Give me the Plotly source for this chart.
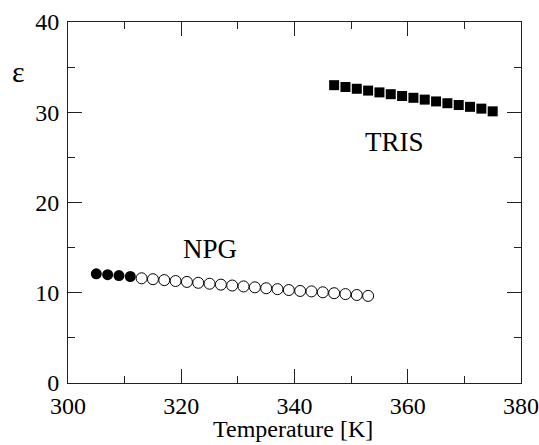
import plotly.graph_objects as go

# NPG: filled circles (low-T phase), open circles (high-T phase)
npg_solid_T = [305, 307, 309, 311]
npg_solid_eps = [12.1, 12.0, 11.9, 11.8]
npg_open_T = [313, 315, 317, 319, 321, 323, 325, 327, 329, 331, 333,
              335, 337, 339, 341, 343, 345, 347, 349, 351, 353]
npg_open_eps = [11.6, 11.5, 11.4, 11.3, 11.2, 11.1, 11.0, 10.9, 10.8, 10.7, 10.6,
                10.5, 10.4, 10.3, 10.2, 10.15, 10.05, 9.95, 9.85, 9.75, 9.65]
# TRIS: filled squares
tris_T = [347, 349, 351, 353, 355, 357, 359, 361, 363, 365, 367, 369, 371, 373, 375]
tris_eps = [33.0, 32.8, 32.6, 32.4, 32.2, 32.0, 31.8, 31.6, 31.4, 31.2,
            31.0, 30.8, 30.6, 30.4, 30.1]

x_ticks = [300, 320, 340, 360, 380]
y_ticks = [0, 10, 20, 30, 40]

FONT = "Liberation Serif, Times New Roman, serif"

fig = go.Figure()
fig.add_trace(go.Scatter(x=npg_solid_T, y=npg_solid_eps, mode="markers",
                         marker=dict(symbol="circle", size=11, color="black",
                                     line=dict(width=0))))
fig.add_trace(go.Scatter(x=npg_open_T, y=npg_open_eps, mode="markers",
                         marker=dict(symbol="circle-open", size=11, color="black",
                                     line=dict(width=1))))
fig.add_trace(go.Scatter(x=tris_T, y=tris_eps, mode="markers",
                         marker=dict(symbol="square", size=10, color="black",
                                     line=dict(width=0))))

fig.add_annotation(x=357.6, y=26.7, text="TRIS", showarrow=False,
                   font=dict(family=FONT, size=27, color="black"))
fig.add_annotation(x=325, y=14.8, text="NPG", showarrow=False,
                   font=dict(family=FONT, size=27, color="black"))
fig.add_annotation(xref="paper", yref="paper", x=-0.11, y=0.862, text="ε",
                   xanchor="center", yanchor="middle",
                   showarrow=False, font=dict(family=FONT, size=30, color="black"))
# x-axis title
fig.add_annotation(xref="paper", yref="paper", x=0.496, y=-0.128, text="Temperature [K]",
                   xanchor="center", yanchor="middle",
                   showarrow=False, font=dict(family=FONT, size=24, color="black"))

axis_common = dict(showgrid=False, zeroline=False, showline=True, linecolor="#222",
                   linewidth=1, mirror="allticks", ticks="inside", ticklen=14,
                   tickwidth=1, tickcolor="#222", automargin=False,
                   tickfont=dict(family=FONT, size=24, color="black"))

fig.update_xaxes(range=[300, 380], tickvals=x_ticks, ticklabelstandoff=1,
                 minor=dict(dtick=10, ticklen=7, ticks="inside", tickcolor="#222", tickwidth=1),
                 **axis_common)
fig.update_yaxes(range=[0, 40], tickvals=y_ticks, ticklabelstandoff=3,
                 minor=dict(dtick=5, ticklen=7, ticks="inside", tickcolor="#222", tickwidth=1),
                 **axis_common)

fig.update_layout(template="none", width=539, height=445, showlegend=False,
                  plot_bgcolor="white", paper_bgcolor="white",
                  margin=dict(l=68, r=18, t=22, b=62),
                  font=dict(family=FONT, color="black"))

fig.write_html("out.html", config={"displayModeBar": False},
               post_script="document.body.style.margin='0';document.body.style.overflow='hidden';")
